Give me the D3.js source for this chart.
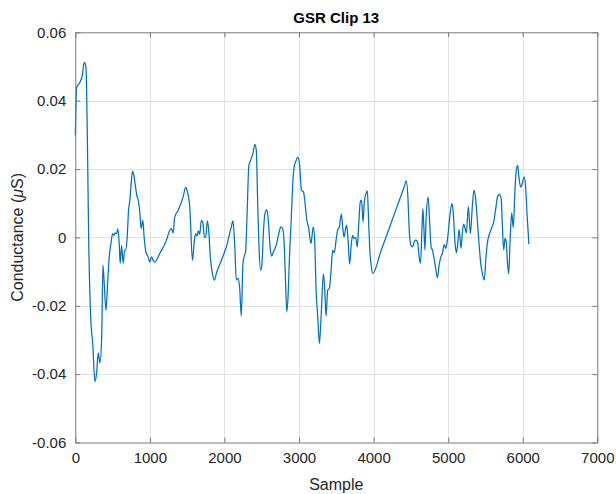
<!DOCTYPE html>
<html>
<head>
<meta charset="utf-8">
<script src="https://cdn.jsdelivr.net/npm/d3@7"></script>
<style>
  html, body { margin: 0; padding: 0; background: #ffffff; }
  svg { display: block; font-family: "Liberation Sans", Arial, Helvetica, sans-serif; }
</style>
</head>
<body>
<svg id="chart" width="616" height="494"></svg>
<script>
// Sample index of each point of the GSR trace
const samples = [
  0, 19, 63, 94, 120, 143, 161, 179, 206, 233, 264, 286, 308, 330, 353, 371, 388, 411, 433, 455,
  478, 500, 518, 535, 554, 571, 589, 602, 621, 642, 661, 678, 696, 714, 732, 749, 768, 785, 808, 825,
  848, 866, 883, 906, 923, 946, 977, 999, 1022, 1044, 1066, 1133, 1223, 1267, 1290, 1311, 1334, 1378, 1445, 1481,
  1498, 1535, 1571, 1597, 1615, 1632, 1651, 1668, 1691, 1712, 1731, 1749, 1771, 1789, 1811, 1838, 1865, 1892, 1959, 2025,
  2092, 2114, 2137, 2159, 2181, 2203, 2226, 2248, 2270, 2284, 2301, 2328, 2351, 2381, 2408, 2427, 2444, 2462, 2484, 2502,
  2524, 2547, 2569, 2591, 2614, 2632, 2658, 2694, 2729, 2756, 2779, 2796, 2819, 2836, 2855, 2872, 2895, 2916, 2939, 2962,
  2983, 3006, 3033, 3060, 3086, 3109, 3127, 3160, 3191, 3209, 3229, 3251, 3274, 3296, 3327, 3345, 3363, 3385, 3407, 3430,
  3452, 3474, 3497, 3518, 3541, 3568, 3585, 3604, 3621, 3639, 3658, 3679, 3702, 3719, 3738, 3759, 3782, 3799, 3822, 3840,
  3858, 3876, 3898, 3916, 3933, 3952, 3969, 3990, 4100, 4210, 4344, 4411, 4438, 4460, 4478, 4500, 4522, 4545, 4567, 4589,
  4611, 4629, 4648, 4661, 4674, 4688, 4705, 4732, 4752, 4772, 4789, 4826, 4856, 4879, 4902, 4923, 4946, 4969, 4990, 5022,
  5049, 5066, 5093, 5110, 5129, 5147, 5173, 5191, 5209, 5227, 5244, 5271, 5298, 5325, 5347, 5370, 5391, 5414, 5437, 5458,
  5485, 5504, 5525, 5571, 5615, 5638, 5664, 5691, 5713, 5726, 5745, 5762, 5779, 5793, 5812, 5829, 5852, 5873, 5896, 5913,
  5932, 5949, 5972, 5993, 6020, 6039, 6060, 6083
];

// Skin conductance (µS) at each sample
const conductance = [
  0.0298, 0.0439, 0.0454, 0.0474, 0.0512, 0.0498, 0.0304, 0.0001, -0.0232, -0.0309, -0.0422, -0.0396, -0.0338, -0.0367, -0.0300, -0.0081, -0.0135, -0.0213, -0.0135, -0.0057,
  -0.0018, 0.0011, 0.0006, 0.0013, 0.0011, 0.0026, -0.0018, -0.0076, -0.0023, -0.0076, -0.0037, -0.0037, 0.0001, 0.0079, 0.0109, 0.0157, 0.0194, 0.0182, 0.0147, 0.0123,
  0.0104, 0.0070, 0.0026, 0.0050, 0.0001, -0.0042, -0.0057, -0.0072, -0.0057, -0.0067, -0.0072, -0.0047, -0.0008, 0.0021, 0.0026, 0.0013, 0.0060, 0.0079, 0.0118, 0.0146,
  0.0138, 0.0089, -0.0067, -0.0008, 0.0011, 0.0004, 0.0019, 0.0009, 0.0050, 0.0041, 0.0000, 0.0001, 0.0048, 0.0021, -0.0057, -0.0105, -0.0125, -0.0105, -0.0067, -0.0028,
  0.0031, 0.0048, -0.0018, -0.0125, -0.0120, -0.0145, -0.0230, -0.0076, -0.0052, -0.0042, 0.0050, 0.0211, 0.0225, 0.0245, 0.0272, 0.0255, 0.0118, -0.0018, -0.0096, -0.0081,
  0.0021, 0.0074, 0.0081, 0.0041, -0.0032, -0.0055, -0.0042, -0.0023, 0.0011, 0.0031, 0.0026, 0.0001, -0.0125, -0.0218, -0.0164, -0.0057, 0.0050, 0.0157, 0.0211, 0.0225,
  0.0235, 0.0216, 0.0138, 0.0133, 0.0089, 0.0045, 0.0031, -0.0018, 0.0031, -0.0002, -0.0154, -0.0232, -0.0310, -0.0232, -0.0107, -0.0154, -0.0230, -0.0154, -0.0149, -0.0096,
  -0.0037, -0.0045, -0.0008, 0.0021, 0.0031, 0.0068, 0.0031, 0.0001, 0.0021, 0.0036, -0.0008, -0.0078, -0.0018, 0.0006, -0.0003, 0.0000, -0.0028, 0.0031, 0.0104, 0.0109,
  0.0045, 0.0104, 0.0128, 0.0136, 0.0050, -0.0046, -0.0085, -0.0105, -0.0039, 0.0027, 0.0108, 0.0148, 0.0165, 0.0118, 0.0021, -0.0023, -0.0028, -0.0013, -0.0008, -0.0013,
  -0.0057, -0.0076, 0.0021, 0.0084, 0.0031, -0.0037, 0.0060, 0.0118, 0.0044, -0.0029, -0.0037, -0.0081, -0.0118, -0.0081, -0.0057, -0.0047, -0.0021, -0.0032, -0.0008, 0.0060,
  0.0099, 0.0079, -0.0018, -0.0045, -0.0018, 0.0023, -0.0032, 0.0016, 0.0039, 0.0026, 0.0013, 0.0091, 0.0011, 0.0094, 0.0138, 0.0109, 0.0050, -0.0018, -0.0076, -0.0105,
  -0.0125, -0.0067, -0.0018, 0.0021, 0.0050, 0.0084, 0.0120, 0.0126, 0.0109, 0.0041, -0.0037, -0.0003, -0.0013, -0.0067, -0.0107, -0.0018, 0.0072, 0.0029, 0.0138, 0.0196,
  0.0211, 0.0177, 0.0147, 0.0157, 0.0177, 0.0147, 0.0060, -0.0020
];

const xTicks = [0, 1000, 2000, 3000, 4000, 5000, 6000, 7000];
const yTicks = [-0.06, -0.04, -0.02, 0, 0.02, 0.04, 0.06];
const xDomain = [0, 7000];
const yDomain = [-0.06, 0.06];

const svg = d3.select("#chart");
const plotLeft = 75.3, plotRight = 597.3, plotTop = 32.3, plotBottom = 442.5;

const x = d3.scaleLinear().domain(xDomain).range([plotLeft, plotRight]);
const y = d3.scaleLinear().domain(yDomain).range([plotBottom, plotTop]);

const axisColor = "#7a7a7a";
const gridColor = "#e3e3e3";
const tickLen = 5;

// Grid
const grid = svg.append("g");
grid.selectAll("line.gx").data(xTicks.slice(1, -1)).join("line")
  .attr("x1", d => Math.round(x(d)) + 0.5).attr("x2", d => Math.round(x(d)) + 0.5)
  .attr("y1", plotTop).attr("y2", plotBottom)
  .attr("stroke", gridColor).attr("stroke-width", 1);
grid.selectAll("line.gy").data(yTicks.slice(1, -1)).join("line")
  .attr("y1", d => Math.round(y(d)) + 0.5).attr("y2", d => Math.round(y(d)) + 0.5)
  .attr("x1", plotLeft).attr("x2", plotRight)
  .attr("stroke", gridColor).attr("stroke-width", 1);

// Trace
const points = samples.map((s, i) => [s, conductance[i]]);
const line = d3.line()
  .x(d => x(d[0]))
  .y(d => y(d[1]))
  .curve(d3.curveMonotoneX);
svg.append("path")
  .datum(points)
  .attr("d", line)
  .attr("fill", "none")
  .attr("stroke", "#0072BD")
  .attr("stroke-width", 1.25)
  .attr("stroke-linejoin", "round");

// Axes: bottom and left carry labels, all four sides carry inward ticks
const fmtY = d => d === 0 ? "0" : d3.format(".2f")(d).replace("\u2212", "-");
const xAxis = d3.axisBottom(x).tickValues(xTicks).tickSizeInner(-tickLen).tickSizeOuter(0).tickPadding(10).tickFormat(d3.format("d"));
const yAxis = d3.axisLeft(y).tickValues(yTicks).tickSizeInner(-tickLen).tickSizeOuter(0).tickPadding(9).tickFormat(fmtY);
const xAxisTop = d3.axisTop(x).tickValues(xTicks).tickSizeInner(-tickLen).tickSizeOuter(0).tickFormat("");
const yAxisRight = d3.axisRight(y).tickValues(yTicks).tickSizeInner(-tickLen).tickSizeOuter(0).tickFormat("");

function style(g) {
  g.select(".domain").attr("stroke", axisColor);
  g.selectAll(".tick line").attr("stroke", axisColor);
  g.selectAll(".tick text").attr("fill", "#262626").style("font-size", "15px")
    .style("font-family", "'Liberation Sans', Arial, sans-serif");
}
svg.append("g").attr("transform", `translate(0,${plotBottom})`).call(xAxis).call(style);
svg.append("g").attr("transform", `translate(${plotLeft},0)`).call(yAxis).call(style);
svg.append("g").attr("transform", `translate(0,${plotTop})`).call(xAxisTop).call(style);
svg.append("g").attr("transform", `translate(${plotRight},0)`).call(yAxisRight).call(style);

// Title and axis labels
svg.append("text")
  .attr("x", (plotLeft + plotRight) / 2).attr("y", 23)
  .attr("text-anchor", "middle")
  .attr("fill", "#000")
  .style("font-size", "15px").style("font-weight", "bold")
  .text("GSR Clip 13");

svg.append("text")
  .attr("x", (plotLeft + plotRight) / 2).attr("y", 490)
  .attr("text-anchor", "middle")
  .attr("fill", "#262626")
  .style("font-size", "16px")
  .text("Sample");

const yl = svg.append("text")
  .attr("transform", `translate(23,${(plotTop + plotBottom) / 2}) rotate(-90)`)
  .attr("text-anchor", "middle")
  .attr("fill", "#262626")
  .style("font-size", "16px");
yl.append("tspan").text("Conductance (");
yl.append("tspan").style("font-style", "italic").text("\u03BC");
yl.append("tspan").text("S)");
</script>
</body>
</html>
